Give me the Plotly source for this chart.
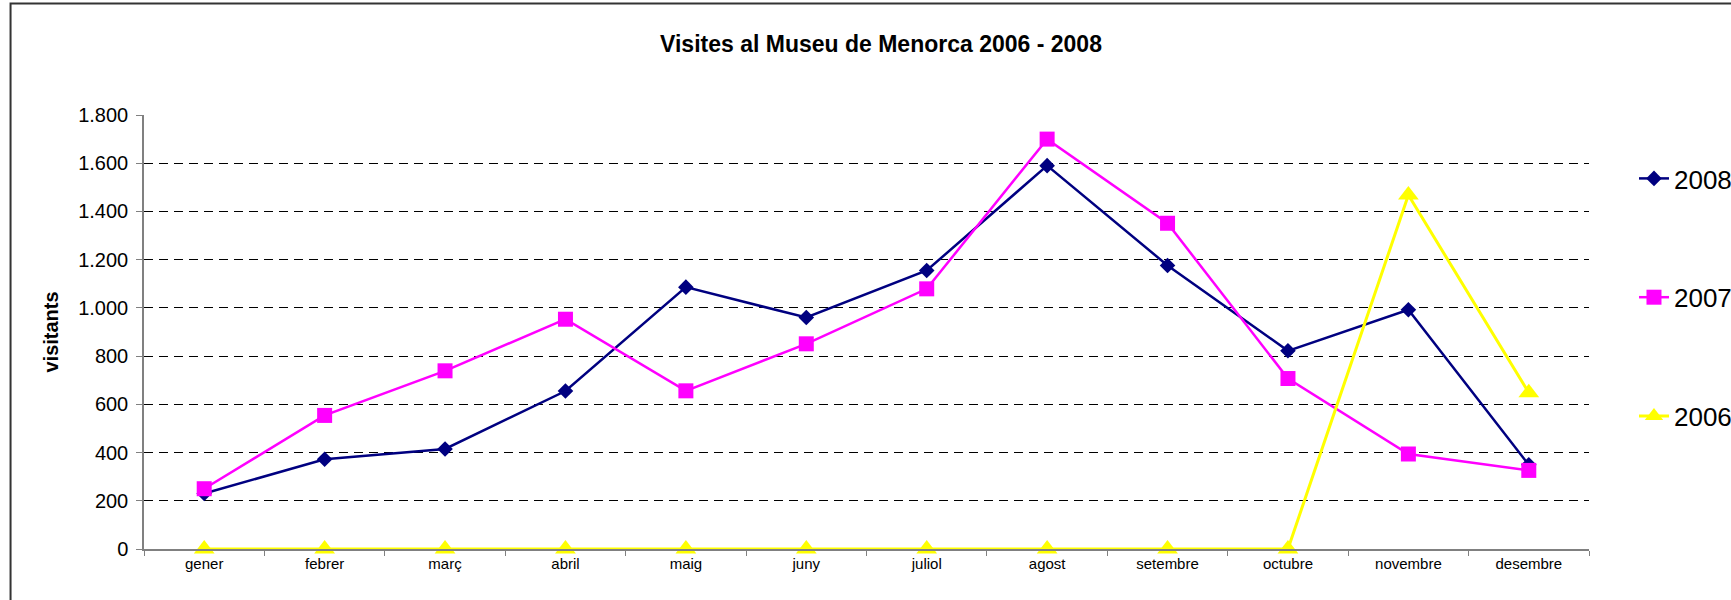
import plotly.graph_objects as go

months = ["gener", "febrer", "març", "abril", "maig", "juny", "juliol",
          "agost", "setembre", "octubre", "novembre", "desembre"]
v2008 = [230, 372, 415, 655, 1086, 960, 1155, 1590, 1176, 822, 992, 349]
v2007 = [250, 554, 739, 953, 656, 851, 1079, 1700, 1351, 707, 394, 326]
v2006 = [0, 0, 0, 0, 0, 0, 0, 0, 0, 0, 1468, 648]

W, H = 1731, 600
L, R, T, B = 143.5, 142, 115, 51
plot_w = W - L - R
plot_h = H - T - B

fig = go.Figure()
fig.add_trace(go.Scatter(x=months, y=v2008, name="2008", mode="lines+markers",
                         line=dict(color="#000080", width=2.5),
                         marker=dict(symbol="diamond", size=12, color="#000080"),
                         legendgroup="a", cliponaxis=False))
fig.add_trace(go.Scatter(x=months, y=v2007, name="2007", mode="lines+markers",
                         line=dict(color="#FF00FF", width=2.5),
                         marker=dict(symbol="square", size=15, color="#FF00FF"),
                         legendgroup="b", cliponaxis=False))
fig.add_trace(go.Scatter(x=months, y=v2006, name="2006", mode="lines+markers",
                         line=dict(color="#FFFF00", width=3),
                         marker=dict(symbol="triangle-up", size=18, color="#FFFF00"),
                         legendgroup="c", cliponaxis=False))

font_family = "Liberation Sans, Arial, sans-serif"

fig.update_layout(
    width=W, height=H,
    margin=dict(l=L, r=R, t=T, b=B, pad=0, autoexpand=False),
    paper_bgcolor="white", plot_bgcolor="white",
    separators=",.",
    font=dict(family=font_family, color="black"),
    title=dict(text="<b>Visites al Museu de Menorca 2006 - 2008</b>",
               x=881 / W, xref="container", xanchor="center",
               y=1 - 44 / H, yref="container", yanchor="middle",
               font=dict(size=23, family=font_family, color="black")),
    showlegend=True,
    legend=dict(x=(1634 - L) / plot_w, xanchor="left",
                y=(H - B - 155) / plot_h, yanchor="top",
                font=dict(size=26, family=font_family, color="black"),
                traceorder="grouped", tracegroupgap=82,
                bgcolor="rgba(0,0,0,0)", borderwidth=0),
    xaxis=dict(type="category", categoryorder="array", categoryarray=months,
               showline=True, linecolor="#808080", linewidth=1.5,
               ticks="outside", ticklen=5, tickcolor="#808080", tickwidth=1,
               tickson="boundaries", showgrid=False, zeroline=False,
               automargin=False,
               tickfont=dict(size=15, family=font_family, color="black"),
               range=[-0.5, 11.5]),
    yaxis=dict(range=[0, 1800], dtick=200, tick0=0, tickformat=",",
               showline=True, linecolor="#808080", linewidth=1.5,
               ticks="outside", ticklen=6, tickcolor="#808080", tickwidth=1,
               ticklabelstandoff=4, automargin=False,
               showgrid=True, gridcolor="black", gridwidth=1, griddash="9px,6px",
               zeroline=False,
               tickfont=dict(size=20, family=font_family, color="black")),
    annotations=[dict(text="<b>visitants</b>", textangle=-90,
                      xref="paper", yref="paper",
                      x=(50 - L) / plot_w, y=(H - B - 332) / plot_h,
                      xanchor="center", yanchor="middle", showarrow=False,
                      font=dict(size=20, family=font_family, color="black"))],
    shapes=[dict(type="rect", xref="paper", yref="paper",
                 x0=(10 - L) / plot_w, x1=2,
                 y0=-1, y1=(H - B - 3.5) / plot_h,
                 line=dict(color="#333333", width=2), layer="above")],
)

fig.write_html("out.html", config={"displayModeBar": False},
               post_script="document.body.style.margin='0';document.body.style.overflow='hidden';")
